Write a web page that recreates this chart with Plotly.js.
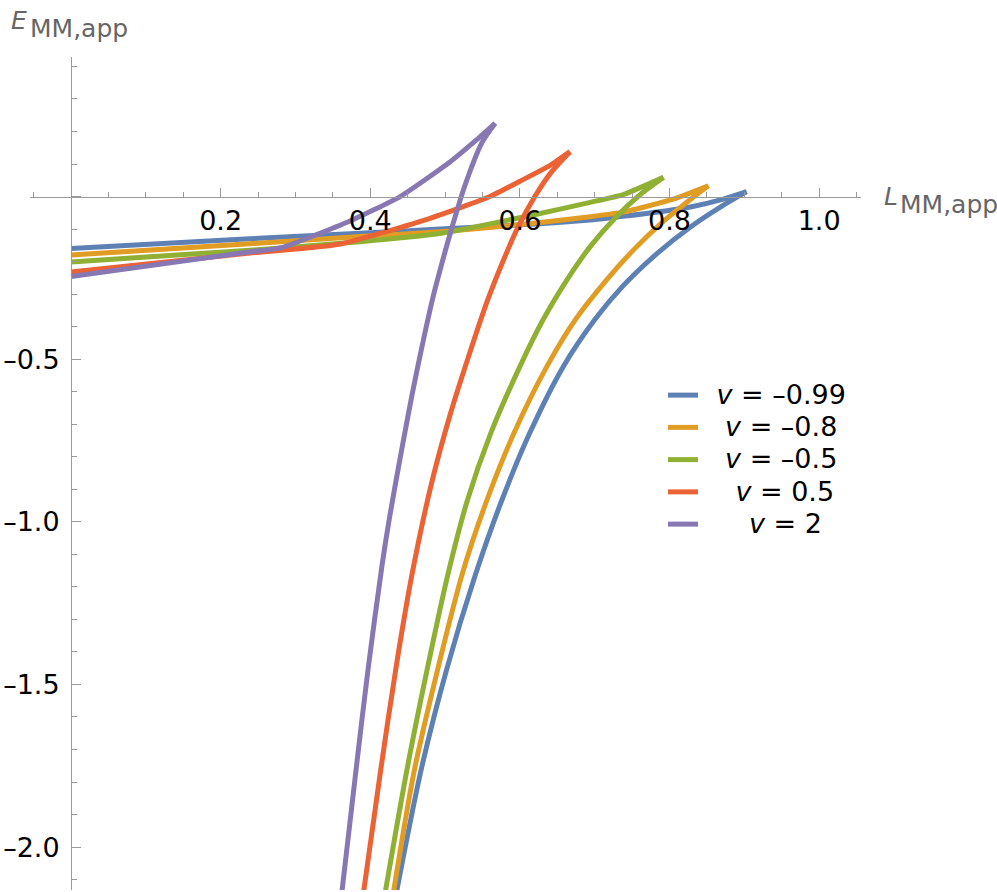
<!DOCTYPE html>
<html>
<head>
<meta charset="utf-8">
<script src="https://cdn.plot.ly/plotly-3.0.1.min.js"></script>
<style>
html,body{margin:0;padding:0;background:#fff;}
#chart{width:997px;height:892px;}
</style>
</head>
<body>
<div id="chart"></div>
<script>
// ---- data ----
const vLabels = ['–0.99', '–0.8', '–0.5', '0.5', '2'];

// v = -0.99
const upperL_n099 = [0, 0.239, 0.386, 0.493, 0.627, 0.694, 0.738, 0.828, 0.872, 0.903];
const upperE_n099 = [-0.160, -0.130, -0.113, -0.100, -0.084, -0.072, -0.061, -0.032, -0.008, 0.015];
const lowerL_n099 = [0.903, 0.869, 0.829, 0.784, 0.737, 0.700, 0.658, 0.613, 0.576, 0.541, 0.502, 0.468, 0.435];
const lowerE_n099 = [0.015, -0.031, -0.092, -0.174, -0.277, -0.379, -0.523, -0.728, -0.933, -1.160, -1.455, -1.763, -2.140];

// v = -0.8
const upperL_n08 = [0, 0.239, 0.386, 0.507, 0.627, 0.694, 0.738, 0.805, 0.852];
const upperE_n08 = [-0.180, -0.145, -0.123, -0.106, -0.080, -0.062, -0.048, -0.008, 0.033];
const lowerL_n08 = [0.852, 0.830, 0.794, 0.752, 0.716, 0.674, 0.636, 0.592, 0.556, 0.523, 0.490, 0.459, 0.431];
const lowerE_n08 = [0.033, -0.005, -0.072, -0.164, -0.256, -0.379, -0.523, -0.728, -0.933, -1.160, -1.455, -1.763, -2.140];

// v = -0.5
const upperL_n05 = [0, 0.239, 0.386, 0.495, 0.627, 0.694, 0.738, 0.792];
const upperE_n05 = [-0.201, -0.165, -0.139, -0.113, -0.052, -0.018, 0.006, 0.059];
const lowerL_n05 = [0.792, 0.763, 0.729, 0.694, 0.663, 0.631, 0.600, 0.561, 0.530, 0.504, 0.476, 0.449, 0.420];
const lowerE_n05 = [0.059, 0.010, -0.062, -0.154, -0.256, -0.379, -0.523, -0.728, -0.933, -1.160, -1.455, -1.763, -2.140];

// v = 0.5
const upperL_p05 = [0, 0.239, 0.360, 0.480, 0.560, 0.600, 0.640, 0.667];
const upperE_p05 = [-0.232, -0.174, -0.146, -0.067, 0.000, 0.047, 0.095, 0.138];
const lowerL_p05 = [0.667, 0.641, 0.620, 0.598, 0.580, 0.557, 0.530, 0.506, 0.482, 0.456, 0.434, 0.414, 0.391];
const lowerE_p05 = [0.138, 0.072, 0.000, -0.092, -0.185, -0.318, -0.502, -0.677, -0.881, -1.160, -1.455, -1.763, -2.140];

// v = 2
const upperL_p2 = [0, 0.239, 0.280, 0.373, 0.440, 0.507, 0.542, 0.567];
const upperE_p2 = [-0.246, -0.170, -0.158, -0.075, 0.000, 0.107, 0.174, 0.225];
const lowerL_p2 = [0.567, 0.549, 0.526, 0.507, 0.491, 0.483, 0.459, 0.442, 0.426, 0.416, 0.397, 0.381, 0.362];
const lowerE_p2 = [0.225, 0.164, 0.030, -0.113, -0.246, -0.318, -0.574, -0.779, -0.984, -1.130, -1.455, -1.763, -2.140];

// ---- styles ----
const colors = ['#5E81B5', '#E19C24', '#8FB032', '#EB6235', '#8778B3'];
const EN = '\u2002', NB = '\u00A0', TH = '\u2009';
const legendPad = [EN, EN + NB, EN + NB, EN + EN + TH, EN + EN + EN + TH];
const FONT = 'DejaVu Sans, Verdana, sans-serif';
const TEXT_SIZE = 27;
const LINE_W = 5;

const series = [
  [upperL_n099, upperE_n099, lowerL_n099, lowerE_n099],
  [upperL_n08, upperE_n08, lowerL_n08, lowerE_n08],
  [upperL_n05, upperE_n05, lowerL_n05, lowerE_n05],
  [upperL_p05, upperE_p05, lowerL_p05, lowerE_p05],
  [upperL_p2, upperE_p2, lowerL_p2, lowerE_p2]
];

const traces = [];
series.forEach((s, i) => {
  traces.push({x: s[0], y: s[1], mode: 'lines',
               line: {color: colors[i], width: LINE_W, shape: 'spline', smoothing: 0.5},
               showlegend: false, hoverinfo: 'skip'});
  traces.push({x: s[2], y: s[3], mode: 'lines',
               line: {color: colors[i], width: LINE_W, shape: 'spline', smoothing: 0.8},
               name: '<span style="font-size:' + TEXT_SIZE + 'px">' + legendPad[i] +
                     '<i>v</i> = ' + vLabels[i] + '</span>',
               hoverinfo: 'skip'});
});

const W = 997, H = 892;
const M = {l: 30, r: 136, t: 57, b: 2};
const xRange = [-0.0548, 1.056];
const yRange = [-2.132, 0.429];
const pw = W - M.l - M.r, ph = H - M.t - M.b;
const px2x = px => (px - M.l) / pw;
const py2y = py => (H - M.b - py) / ph;

const axisGray = '#9a9a9a';
const titleGray = '#666666';

const alias = {'0.0': ' ', '0': ' '};
['0.5', '1.0', '1.5', '2.0'].forEach(t => {
  alias['\u2212' + t] = '\u2013' + t;
  alias['-' + t] = '\u2013' + t;
});

const layout = {
  width: W, height: H,
  margin: M,
  paper_bgcolor: '#fff', plot_bgcolor: '#fff',
  showlegend: true,
  legend: {
    x: px2x(663), y: py2y(374), xanchor: 'left', yanchor: 'top',
    font: {family: FONT, size: 22.5, color: '#000'},
    bgcolor: 'rgba(0,0,0,0)', borderwidth: 0, itemwidth: 30
  },
  xaxis: {
    range: xRange, anchor: 'free',
    position: (0 - yRange[0]) / (yRange[1] - yRange[0]),
    showline: true, linecolor: axisGray, linewidth: 1,
    showgrid: false, zeroline: false,
    tickmode: 'linear', tick0: 0, dtick: 0.2, tickformat: '.1f',
    labelalias: alias,
    ticks: 'inside', ticklen: 9, tickcolor: axisGray, tickwidth: 1,
    ticklabelstandoff: 0,
    tickfont: {family: FONT, size: TEXT_SIZE, color: '#000'},
    minor: {tickmode: 'linear', tick0: 0, dtick: 0.05, ticks: 'inside', ticklen: 5,
            tickcolor: axisGray, tickwidth: 1, showgrid: false}
  },
  yaxis: {
    range: yRange, anchor: 'free',
    position: (0 - xRange[0]) / (xRange[1] - xRange[0]),
    showline: true, linecolor: axisGray, linewidth: 1,
    showgrid: false, zeroline: false,
    tickmode: 'linear', tick0: 0, dtick: 0.5, tickformat: '.1f',
    labelalias: alias,
    ticks: 'inside', ticklen: 9, tickcolor: axisGray, tickwidth: 1,
    ticklabelstandoff: 6,
    tickfont: {family: FONT, size: TEXT_SIZE, color: '#000'},
    minor: {tickmode: 'linear', tick0: 0, dtick: 0.1, ticks: 'inside', ticklen: 5,
            tickcolor: axisGray, tickwidth: 1, showgrid: false}
  },
  annotations: [
    {xref: 'paper', yref: 'paper', x: px2x(9), y: py2y(21), xanchor: 'left', yanchor: 'middle',
     text: '<i>E</i>', showarrow: false, font: {family: FONT, size: 25, color: titleGray}},
    {xref: 'paper', yref: 'paper', x: px2x(28), y: py2y(28), xanchor: 'left', yanchor: 'middle',
     text: 'MM,app', showarrow: false, font: {family: FONT, size: 25, color: titleGray}},
    {xref: 'paper', yref: 'paper', x: px2x(882), y: py2y(196), xanchor: 'left', yanchor: 'middle',
     text: '<i>L</i>', showarrow: false, font: {family: FONT, size: 25, color: titleGray}},
    {xref: 'paper', yref: 'paper', x: px2x(898), y: py2y(204), xanchor: 'left', yanchor: 'middle',
     text: 'MM,app', showarrow: false, font: {family: FONT, size: 25, color: titleGray}}
  ]
};

Plotly.newPlot('chart', traces, layout, {displayModeBar: false, staticPlot: true});
</script>
</body>
</html>
